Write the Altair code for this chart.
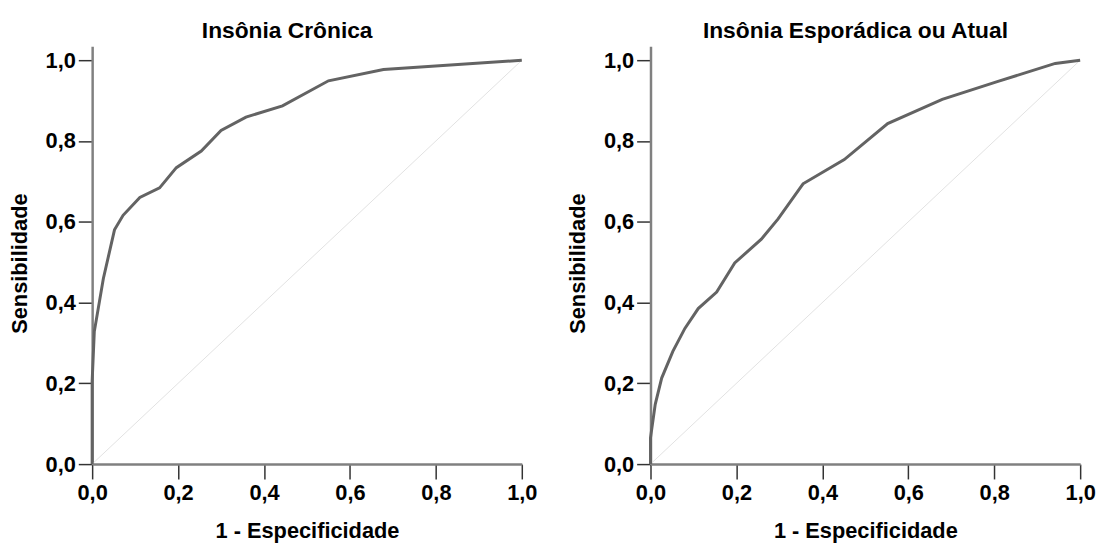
import altair as alt
import pandas as pd

# Left panel: Insônia Crônica
cron_fpr = [0.0, 0.0, 0.005, 0.026, 0.052, 0.072, 0.111, 0.157, 0.196, 0.254, 0.300, 0.358, 0.443, 0.550, 0.678, 1.0]
cron_tpr = [0.0, 0.205, 0.328, 0.459, 0.580, 0.616, 0.660, 0.684, 0.734, 0.775, 0.826, 0.859, 0.887, 0.949, 0.977, 1.0]

# Right panel: Insônia Esporádica ou Atual
spor_fpr = [0.0, 0.0, 0.011, 0.026, 0.052, 0.080, 0.111, 0.154, 0.196, 0.258, 0.297, 0.355, 0.451, 0.552, 0.679, 0.807, 0.942, 1.0]
spor_tpr = [0.0, 0.065, 0.148, 0.213, 0.279, 0.336, 0.385, 0.426, 0.498, 0.557, 0.607, 0.694, 0.754, 0.843, 0.903, 0.947, 0.992, 1.0]

diag_x = [0.0, 1.0]
diag_y = [0.0, 1.0]

tick_values = [0.0, 0.2, 0.4, 0.6, 0.8, 1.0]
titles = ["Insônia Crônica", "Insônia Esporádica ou Atual"]

FONT = "Liberation Sans"
label_expr = "replace(format(datum.value, '.1f'), '.', ',')"


def panel(fpr, tpr, title, dx):
    df = pd.DataFrame({"fpr": fpr, "tpr": tpr, "i": list(range(len(fpr)))})
    dg = pd.DataFrame({"fpr": diag_x, "tpr": diag_y, "i": [0, 1]})
    x = alt.X(
        "fpr:Q",
        scale=alt.Scale(domain=[0, 1], nice=False, zero=False),
        axis=alt.Axis(values=tick_values, labelExpr=label_expr, title="1 - Especificidade",
                      tickSize=15, labelPadding=4, titlePadding=17),
    )
    y = alt.Y(
        "tpr:Q",
        scale=alt.Scale(domain=[0, 1.0344], nice=False, zero=False),
        axis=alt.Axis(values=tick_values, labelExpr=label_expr, title="Sensibilidade",
                      tickSize=14, labelPadding=3, titlePadding=14, titleY=219),
    )
    diag = alt.Chart(dg).mark_line(color="#e2e2e2", strokeWidth=1).encode(
        x=x, y=y, order="i:Q"
    )
    curve = alt.Chart(df).mark_line(color="#636363", strokeWidth=3).encode(
        x=x, y=y, order="i:Q"
    )
    return alt.layer(diag, curve).properties(
        width=434,
        height=422,
        title=alt.TitleParams(title, fontSize=23, font=FONT, fontWeight="bold",
                              anchor="middle", baseline="alphabetic", offset=-15, dx=dx,
                              color="black"),
    )


left = panel(cron_fpr, cron_tpr, titles[0], -20)
right = panel(spor_fpr, spor_tpr, titles[1], -10)

chart = alt.hconcat(left, right, spacing=29).properties(
    padding={"left": 0, "top": 10, "right": 0, "bottom": 0}
).configure_view(stroke=None).configure_axis(
    grid=False,
    domainColor="#808080",
    domainWidth=2.5,
    tickColor="#333333",
    tickWidth=1.5,
    labelFont=FONT,
    labelFontSize=22,
    labelFontWeight="bold",
    labelColor="black",
    titleFont=FONT,
    titleFontSize=22,
    titleFontWeight="bold",
    titleColor="black",
    labelFlush=False,
    labelOverlap=False,
)

chart.save("out.html", embed_options={"renderer": "svg", "actions": False})
